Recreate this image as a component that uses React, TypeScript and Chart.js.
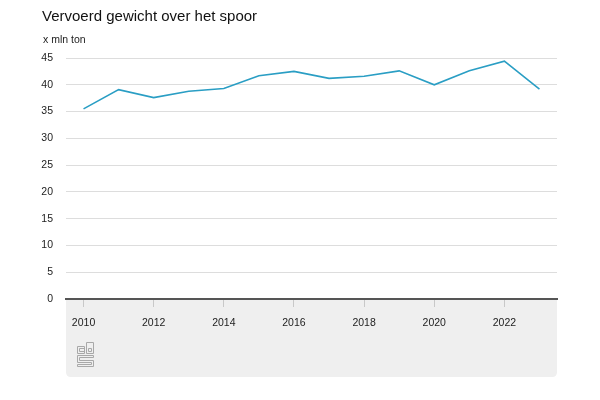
import React, { useEffect, useRef } from 'react';
import { Chart, registerables } from 'chart.js';

Chart.register(...registerables);

const years = ['2010', '2011', '2012', '2013', '2014', '2015', '2016', '2017', '2018', '2019', '2020', '2021', '2022', '2023'];
const weight = [35.5, 39.1, 37.6, 38.8, 39.3, 41.7, 42.5, 41.2, 41.6, 42.6, 40.0, 42.6, 44.4, 39.2];
const xTickLabels = ['2010', '2012', '2014', '2016', '2018', '2020', '2022'];
const yMin = 0;
const yMax = 45;
const yStep = 5;

const FONT = "'Liberation Sans', Arial, Helvetica, sans-serif";

const axisBoxPlugin = {
  id: 'axisBox',
  beforeDraw(chart: any) {
    const { ctx, chartArea } = chart;
    const left = chartArea.left;
    const right = chartArea.right;
    const top = chartArea.bottom;
    const bottom = chart.height - 23;
    const r = 5;
    ctx.save();
    ctx.fillStyle = '#efefef';
    ctx.beginPath();
    ctx.moveTo(left, top);
    ctx.lineTo(right, top);
    ctx.lineTo(right, bottom - r);
    ctx.quadraticCurveTo(right, bottom, right - r, bottom);
    ctx.lineTo(left + r, bottom);
    ctx.quadraticCurveTo(left, bottom, left, bottom - r);
    ctx.closePath();
    ctx.fill();

    // CBS logo (outline glyphs)
    const x0 = left + 11;
    const y0 = top + 43;
    ctx.strokeStyle = '#a8a8a8';
    ctx.lineWidth = 1;
    ctx.beginPath();
    // "c"
    ctx.rect(x0 + 0.5, y0 + 4.5, 7, 7);
    ctx.rect(x0 + 2.5, y0 + 6.5, 5, 3);
    // "b"
    ctx.rect(x0 + 9.5, y0 + 0.5, 7, 11);
    ctx.rect(x0 + 11.5, y0 + 6.5, 3, 3);
    // "s"
    ctx.moveTo(x0 + 16.5, y0 + 13.5);
    ctx.lineTo(x0 + 0.5, y0 + 13.5);
    ctx.lineTo(x0 + 0.5, y0 + 20.5);
    ctx.lineTo(x0 + 14.5, y0 + 20.5);
    ctx.lineTo(x0 + 14.5, y0 + 22.5);
    ctx.lineTo(x0 + 0.5, y0 + 22.5);
    ctx.lineTo(x0 + 0.5, y0 + 24.5);
    ctx.lineTo(x0 + 16.5, y0 + 24.5);
    ctx.lineTo(x0 + 16.5, y0 + 18.5);
    ctx.lineTo(x0 + 2.5, y0 + 18.5);
    ctx.lineTo(x0 + 2.5, y0 + 15.5);
    ctx.lineTo(x0 + 16.5, y0 + 15.5);
    ctx.closePath();
    ctx.stroke();
    ctx.restore();
  },
};

export default function App() {
  const canvasRef = useRef<HTMLCanvasElement | null>(null);

  useEffect(() => {
    document.body.style.margin = '0';
    const canvas = canvasRef.current;
    if (!canvas) return;
    const chart = new Chart(canvas, {
      type: 'line',
      data: {
        labels: years,
        datasets: [
          {
            data: weight,
            borderColor: '#2a9ec4',
            borderWidth: 1.6,
            pointRadius: 0,
            tension: 0,
            fill: false,
          },
        ],
      },
      options: {
        responsive: false,
        animation: false,
        layout: { padding: { top: 58, left: 0, right: 43, bottom: 23 } },
        plugins: {
          legend: { display: false },
          tooltip: { enabled: false },
          title: { display: false },
        },
        scales: {
          x: {
            type: 'category',
            offset: true,
            afterFit: (s: any) => {
              s.height = 78;
            },
            grid: {
              offset: false,
              drawOnChartArea: false,
              drawTicks: true,
              tickLength: 8,
              color: (c: any) => (xTickLabels.includes(years[c.index]) ? '#c8c8c8' : 'rgba(0,0,0,0)'),
            },
            border: { display: true, color: '#555555', width: 2 },
            ticks: {
              autoSkip: false,
              maxRotation: 0,
              padding: 10,
              color: '#222222',
              font: { family: FONT, size: 10.5 },
              callback: (_v: any, i: number) => (xTickLabels.includes(years[i]) ? years[i] : ''),
            },
          },
          y: {
            min: yMin,
            max: yMax,
            afterFit: (s: any) => {
              s.width = 66;
            },
            grid: { color: '#dddddd', drawTicks: false, lineWidth: 1 },
            border: { display: false },
            ticks: {
              stepSize: yStep,
              padding: 13,
              color: '#222222',
              font: { family: FONT, size: 10.5 },
            },
          },
        },
      },
      plugins: [axisBoxPlugin],
    });
    return () => chart.destroy();
  }, []);

  return (
    <div style={{ position: 'relative', width: 600, height: 400, fontFamily: FONT }}>
      <canvas ref={canvasRef} width={600} height={400} style={{ position: 'absolute', left: 0, top: 0, width: 600, height: 400 }} />
      <div style={{ position: 'absolute', left: 42, top: 8, fontSize: 15, lineHeight: '15px', color: '#111', whiteSpace: 'nowrap' }}>
        Vervoerd gewicht over het spoor
      </div>
      <div style={{ position: 'absolute', left: 43, top: 34, fontSize: 10.5, lineHeight: '10.5px', color: '#222', whiteSpace: 'nowrap' }}>
        x mln ton
      </div>
    </div>
  );
}
